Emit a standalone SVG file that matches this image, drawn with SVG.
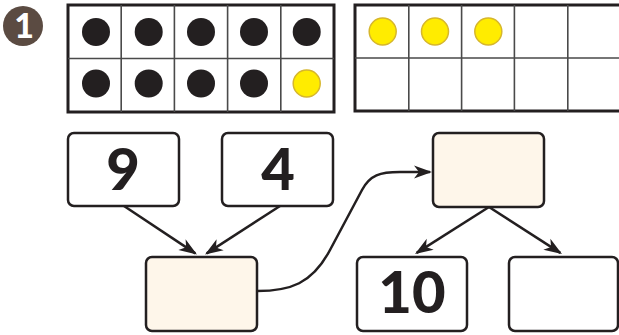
<svg xmlns="http://www.w3.org/2000/svg" width="619" height="335" viewBox="0 0 619 335">
<style>
.frame{fill:#fff;stroke:#231f20;stroke-width:3}
.grid{stroke:#4a4a4a;stroke-width:1.6;fill:none}
.blk{fill:#231f20}
.yel{fill:#ffec00;stroke:#d6b62c;stroke-width:1.5}
.box{fill:#fff;stroke:#231f20;stroke-width:2.5}
.beige{fill:#fef6ea;stroke:#231f20;stroke-width:2.5}
.num{font-family:Lato,"DejaVu Sans",sans-serif;font-weight:900;font-size:58px;fill:#231f20;text-anchor:middle}
.conn{fill:none;stroke:#231f20;stroke-width:2.5}
</style>
<defs>
<marker id="ah" viewBox="-18 -8 21 16" refX="0" refY="0" markerWidth="21" markerHeight="16" markerUnits="userSpaceOnUse" orient="auto">
<path d="M2,0 L-16,-6.5 L-11,0 L-16,6.5 Z" fill="#231f20"/>
</marker>
</defs>
<g id="badge">
<circle cx="23" cy="26" r="20" fill="#5b4b42"/>
<text x="24" y="38" font-family="Lato,'DejaVu Sans',sans-serif" font-weight="900" font-size="34" fill="#fff" text-anchor="middle">1</text>
</g>
<g id="tenframe-left">
<rect class="frame" x="68" y="5" width="266" height="107"/>
<path class="grid" d="M121.2,5V112M174.4,5V112M227.6,5V112M280.8,5V112M68,58.5H334"/>
<circle class="blk" cx="96" cy="32" r="14"/>
<circle class="blk" cx="148.7" cy="32" r="14"/>
<circle class="blk" cx="201" cy="32" r="14"/>
<circle class="blk" cx="254" cy="32" r="14"/>
<circle class="blk" cx="306.7" cy="32" r="14"/>
<circle class="blk" cx="96" cy="83.5" r="14"/>
<circle class="blk" cx="148.7" cy="83.5" r="14"/>
<circle class="blk" cx="201" cy="83.5" r="14"/>
<circle class="blk" cx="254" cy="83.5" r="14"/>
<circle class="yel" cx="306.7" cy="83.5" r="13.5"/>
</g>
<g id="tenframe-right">
<rect class="frame" x="355" y="5" width="270" height="106"/>
<path class="grid" d="M408.8,5V111M461.6,5V111M514.4,5V111M567.8,5V111M355,58H625"/>
<circle class="yel" cx="382.7" cy="31.5" r="13.5"/>
<circle class="yel" cx="435" cy="31.5" r="13.5"/>
<circle class="yel" cx="488.3" cy="31.5" r="13.5"/>
</g>
<g id="node-9">
<rect class="box" x="68" y="133" width="111" height="73" rx="6"/>
<text class="num" x="123" y="190">9</text>
</g>
<g id="node-4">
<rect class="box" x="222" y="133" width="111" height="73" rx="6"/>
<text class="num" x="278" y="190">4</text>
</g>
<g id="node-sum">
<rect class="beige" x="146" y="257" width="111" height="74" rx="6"/>
</g>
<g id="node-top">
<rect class="beige" x="433" y="133" width="111" height="74" rx="6"/>
</g>
<g id="node-10">
<rect class="box" x="357" y="257" width="110" height="74" rx="6"/>
<text class="num" x="412" y="313" font-size="56">10</text>
</g>
<g id="node-empty">
<rect class="box" x="509" y="257" width="109" height="74" rx="6"/>
</g>
<g id="connectors">
<path class="conn" d="M124,206 L195.3,253.4" marker-end="url(#ah)"/>
<path class="conn" d="M280,206 L206.7,253.4" marker-end="url(#ah)"/>
<path class="conn" d="M257,291 C290,291 312,284 330,250 L362,190 C370,175 380,172 400,172 L430,172" marker-end="url(#ah)"/>
<path class="conn" d="M489,207 L416.7,252.9" marker-end="url(#ah)"/>
<path class="conn" d="M489,207 L560.3,252.9" marker-end="url(#ah)"/>
</g>
</svg>
